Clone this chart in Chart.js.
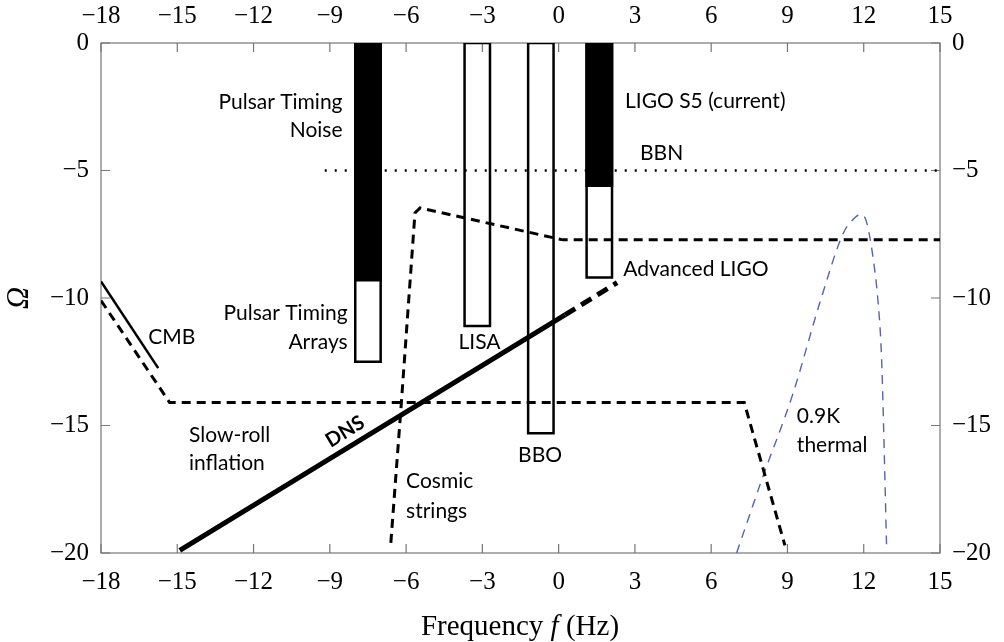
<!DOCTYPE html>
<html><head><meta charset="utf-8">
<script src="https://cdn.jsdelivr.net/npm/chart.js@4.4.0/dist/chart.umd.min.js"></script>
<style>html,body{margin:0;padding:0;background:#fff;}</style>
</head><body>
<canvas id="c" width="1004" height="642"></canvas>
<script>
// ---------- data ----------
const xTicks = [-18, -15, -12, -9, -6, -3, 0, 3, 6, 9, 12, 15];
const yTicks = [0, -5, -10, -15, -20];

// detector bands: [left, right] in log f, [top, bottom] in log Omega
const pulsarX = [-8, -7];
const pulsarNoiseY = [0, -9.3];
const pulsarArrayY = [0, -12.5];
const lisaX = [-3.7, -2.7];
const lisaY = [0, -11.1];
const bboX = [-1.2, -0.2];
const bboY = [0, -15.3];
const ligoX = [1.1, 2.1];
const ligoS5Y = [0, -5.6];
const ligoAdvY = [0, -9.2];

// lines
const bbnX = [-9.2, 15];
const bbnY = [-5, -5];
const cmbX = [-18, -15.75];
const cmbY = [-9.35, -12.75];
const slowRollX = [-18, -15.3, 7.3, 8.9];
const slowRollY = [-10.1, -14.1, -14.1, -19.7];
const cosmicX = [-6.6, -6.2, -5.65, -5.45, 0.17, 0.5, 15];
const cosmicY = [-19.6, -14.3, -6.66, -6.47, -7.72, -7.72, -7.72];
const dnsX = [-14.9, 0.25];
const dnsY = [-19.9, -10.66];
const dnsAdvX = [0.25, 2.3];
const dnsAdvY = [-10.66, -9.4];
const thermX = [7.0, 8.0, 9.2, 10.3, 11.2, 11.6, 11.85, 12.05, 12.2, 12.35, 12.55, 12.7, 12.78, 12.9];
const thermY = [-20, -17.1, -13.8, -10.1, -7.45, -6.9, -6.73, -6.85, -7.4, -8.3, -10.0, -12.3, -15.0, -19.8];

// ---------- helpers ----------
const pts = (xs, ys) => xs.map((x, i) => ({x: x, y: ys[i]}));
const rect = (xs, ys) => [
  {x: xs[0], y: ys[0]}, {x: xs[1], y: ys[0]}, {x: xs[1], y: ys[1]},
  {x: xs[0], y: ys[1]}, {x: xs[0], y: ys[0]}
];
const base = {showLine: true, pointRadius: 0, pointHoverRadius: 0, fill: false, borderColor: '#000', tension: 0};

const datasets = [
  Object.assign({}, base, {data: rect(pulsarX, pulsarNoiseY), fill: 'shape', backgroundColor: '#000', borderWidth: 2.5}),
  Object.assign({}, base, {data: rect(pulsarX, pulsarArrayY), borderWidth: 2.5}),
  Object.assign({}, base, {data: rect(lisaX, lisaY), borderWidth: 2.5}),
  Object.assign({}, base, {data: rect(bboX, bboY), borderWidth: 2.5}),
  Object.assign({}, base, {data: rect(ligoX, ligoS5Y), fill: 'shape', backgroundColor: '#000', borderWidth: 2.5}),
  Object.assign({}, base, {data: rect(ligoX, ligoAdvY), borderWidth: 2.5}),
  Object.assign({}, base, {data: pts(bbnX, bbnY), borderWidth: 2.5, borderDash: [2, 8]}),
  Object.assign({}, base, {data: pts(cmbX, cmbY), borderWidth: 2.5}),
  Object.assign({}, base, {data: pts(slowRollX, slowRollY), borderWidth: 3, borderDash: [9, 6]}),
  Object.assign({}, base, {data: pts(cosmicX, cosmicY), borderWidth: 3, borderDash: [9, 6]}),
  Object.assign({}, base, {data: pts(dnsX, dnsY), borderWidth: 5}),
  Object.assign({}, base, {data: pts(dnsAdvX, dnsAdvY), borderWidth: 5, borderDash: [12, 7]}),
  Object.assign({}, base, {data: pts(thermX, thermY), borderWidth: 1.4, borderColor: '#5563b0', borderDash: [9, 7], cubicInterpolationMode: 'monotone'})
];

// annotation texts (data coordinates)
const notes = [
  {t: 'Pulsar Timing', x: -8.5, y: -2.34, a: 'right'},
  {t: 'Noise', x: -8.5, y: -3.43, a: 'right'},
  {t: 'Pulsar Timing', x: -8.3, y: -10.58, a: 'right'},
  {t: 'Arrays', x: -8.3, y: -11.72, a: 'right'},
  {t: 'CMB', x: -16.14, y: -11.52, a: 'left'},
  {t: 'LISA', x: -3.11, y: -11.72, a: 'center'},
  {t: 'BBO', x: -0.73, y: -16.15, a: 'center'},
  {t: 'LIGO S5 (current)', x: 2.61, y: -2.30, a: 'left'},
  {t: 'BBN', x: 3.2, y: -4.34, a: 'left'},
  {t: 'Advanced LIGO', x: 2.54, y: -8.89, a: 'left'},
  {t: 'Slow-roll', x: -14.54, y: -15.37, a: 'left'},
  {t: 'inflation', x: -14.54, y: -16.47, a: 'left'},
  {t: 'Cosmic', x: -6.0, y: -17.2, a: 'left'},
  {t: 'strings', x: -6.0, y: -18.38, a: 'left'},
  {t: '0.9K', x: 9.37, y: -14.65, a: 'left'},
  {t: 'thermal', x: 9.37, y: -15.76, a: 'left'}
];

const fmt = v => (v < 0 ? '\u2212' + Math.abs(v) : String(v));
const tickFont = {family: 'Liberation Serif', size: 25};
const mkScale = (axis, pos, ticksArr, min, max, pad, size) => ({
  type: 'linear', position: pos, min: min, max: max,
  afterBuildTicks: s => { s.ticks = ticksArr.map(v => ({value: v})); },
  ticks: {font: tickFont, color: '#000', padding: pad, callback: fmt, autoSkip: false, maxRotation: 0},
  grid: {display: false, drawTicks: false},
  border: {display: false},
  afterFit: s => { if (axis === 'x') s.height = size; else s.width = size; }
});

const deco = {
  id: 'deco',
  beforeDatasetsDraw(chart) {
    const {ctx, chartArea: a, scales: {x, y}} = chart;
    ctx.save();
    ctx.strokeStyle = '#777';
    ctx.lineWidth = 1.2;
    ctx.strokeRect(a.left, a.top, a.right - a.left, a.bottom - a.top);
    ctx.beginPath();
    xTicks.forEach(v => {
      const px = x.getPixelForValue(v);
      ctx.moveTo(px, a.bottom); ctx.lineTo(px, a.bottom - 9);
      ctx.moveTo(px, a.top); ctx.lineTo(px, a.top + 9);
    });
    yTicks.forEach(v => {
      const py = y.getPixelForValue(v);
      ctx.moveTo(a.left, py); ctx.lineTo(a.left + 9, py);
      ctx.moveTo(a.right, py); ctx.lineTo(a.right - 9, py);
    });
    ctx.stroke();
    ctx.restore();
  },
  afterDatasetsDraw(chart) {
    const {ctx, scales: {x, y}} = chart;
    ctx.save();
    ctx.fillStyle = '#000';
    ctx.font = '21px Lato';
    ctx.textBaseline = 'middle';
    notes.forEach(n => {
      ctx.textAlign = n.a;
      ctx.fillText(n.t, x.getPixelForValue(n.x), y.getPixelForValue(n.y));
    });
    // DNS rotated label
    const p0x = x.getPixelForValue(dnsX[0]), p0y = y.getPixelForValue(dnsY[0]);
    const p1x = x.getPixelForValue(dnsX[1]), p1y = y.getPixelForValue(dnsY[1]);
    const ang = Math.atan2(p1y - p0y, p1x - p0x);
    ctx.save();
    ctx.translate(x.getPixelForValue(-8.4), y.getPixelForValue(-15.24));
    ctx.rotate(ang);
    ctx.font = 'bold 20px Lato';
    ctx.textAlign = 'center';
    ctx.fillText('DNS', 0, 0);
    ctx.restore();
    ctx.restore();
  },
  afterDraw(chart) {
    const {ctx} = chart;
    ctx.save();
    ctx.fillStyle = '#000';
    ctx.textBaseline = 'alphabetic';
    ctx.textAlign = 'left';
    const reg = '29px "Liberation Serif"', it = 'italic 29px "Liberation Serif"';
    const parts = [['Frequency ', reg], ['f', it], [' (Hz)', reg]];
    let w = 0;
    parts.forEach(p => { ctx.font = p[1]; w += ctx.measureText(p[0]).width; });
    let cx = 520 - w / 2;
    parts.forEach(p => { ctx.font = p[1]; ctx.fillText(p[0], cx, 635); cx += ctx.measureText(p[0]).width; });
    ctx.save();
    ctx.translate(20, 298);
    ctx.rotate(-Math.PI / 2);
    ctx.font = 'italic 31px "Liberation Serif"';
    ctx.textAlign = 'center';
    ctx.textBaseline = 'middle';
    ctx.fillText('\u03A9', 0, 0);
    ctx.restore();
    ctx.restore();
  }
};

new Chart(document.getElementById('c'), {
  type: 'line',
  data: {datasets: datasets},
  options: {
    responsive: false,
    animation: false,
    parsing: true,
    layout: {padding: 0},
    plugins: {legend: {display: false}, tooltip: {enabled: false}},
    scales: {
      x: mkScale('x', 'bottom', xTicks, -18, 15, 14, 89),
      x2: mkScale('x', 'top', xTicks, -18, 15, 12, 43),
      y: mkScale('y', 'left', yTicks, -20, 0, 12, 101),
      y2: mkScale('y', 'right', yTicks, -20, 0, 12, 64)
    }
  },
  plugins: [deco]
});
</script>
</body></html>
